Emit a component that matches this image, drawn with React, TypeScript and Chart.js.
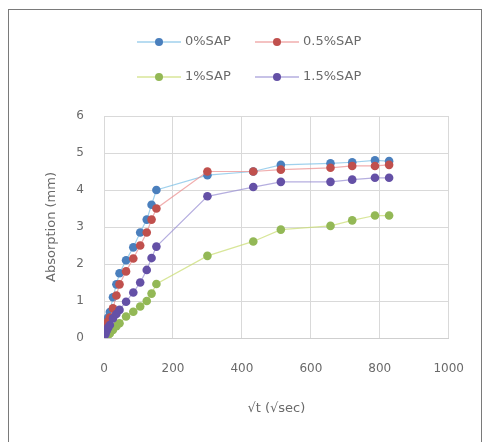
import React, { useEffect, useRef } from "react";
import { Chart, registerables } from "chart.js";

Chart.register(...registerables);

// √t values (√sec) shared by all series
const sqrtTime = [0, 4, 8, 12, 17, 26, 36, 45, 64, 85, 105, 124, 138, 152, 300, 433, 513, 657, 720, 786, 827];

const sap0 = [0, 0.25, 0.4, 0.55, 0.7, 1.1, 1.45, 1.75, 2.1, 2.45, 2.85, 3.2, 3.6, 4.0, 4.4, 4.5, 4.68, 4.72, 4.75, 4.8, 4.78];
const sap05 = [0, 0.2, 0.35, 0.45, 0.55, 0.8, 1.15, 1.45, 1.8, 2.15, 2.5, 2.85, 3.2, 3.5, 4.5, 4.5, 4.55, 4.6, 4.65, 4.65, 4.68];
const sap1 = [0, 0.02, 0.05, 0.08, 0.12, 0.22, 0.32, 0.4, 0.58, 0.71, 0.85, 1.0, 1.2, 1.46, 2.22, 2.61, 2.93, 3.03, 3.18, 3.31, 3.31];
const sap15 = [0, 0.1, 0.2, 0.28, 0.35, 0.53, 0.65, 0.76, 0.98, 1.23, 1.5, 1.84, 2.16, 2.47, 3.83, 4.08, 4.22, 4.22, 4.28, 4.33, 4.33];

const seriesLabels = ["0%SAP", "0.5%SAP", "1%SAP", "1.5%SAP"];
const xTicks = [0, 200, 400, 600, 800, 1000];
const yTicks = [0, 1, 2, 3, 4, 5, 6];

const markerColors = ["#4a7fbd", "#c0504d", "#93b856", "#6450a6"];
const lineColors = ["rgba(120,190,230,0.7)", "rgba(235,140,140,0.7)", "rgba(200,220,110,0.7)", "rgba(150,140,210,0.7)"];

const TEXT = "#6a6a6a";
const FONT = '"DejaVu Sans", sans-serif';

const legendPlugin = {
  id: "customLegend",
  afterDraw(chart: any) {
    const ctx = chart.ctx;
    const cols = [137, 255];
    const rows = [42, 77];
    chart.data.datasets.forEach((ds: any, i: number) => {
      const x0 = cols[i % 2];
      const y = rows[Math.floor(i / 2)];
      ctx.save();
      ctx.strokeStyle = ds.borderColor;
      ctx.lineWidth = 1.5;
      ctx.beginPath();
      ctx.moveTo(x0, y);
      ctx.lineTo(x0 + 44, y);
      ctx.stroke();
      ctx.fillStyle = ds.pointBackgroundColor;
      ctx.beginPath();
      ctx.arc(x0 + 22, y, 4, 0, Math.PI * 2);
      ctx.fill();
      ctx.fillStyle = TEXT;
      ctx.font = `13px ${FONT}`;
      ctx.textBaseline = "middle";
      ctx.textAlign = "left";
      ctx.fillText(ds.label, x0 + 48, y);
      ctx.restore();
    });
  },
};

export default function App() {
  const canvasRef = useRef<HTMLCanvasElement | null>(null);

  useEffect(() => {
    if (!canvasRef.current) return;
    const allY = [sap0, sap05, sap1, sap15];
    const chart = new Chart(canvasRef.current, {
      type: "scatter",
      data: {
        datasets: allY.map((ys, i) => ({
          label: seriesLabels[i],
          data: ys.map((y, j) => ({ x: sqrtTime[j], y })),
          showLine: true,
          borderColor: lineColors[i],
          borderWidth: 1.2,
          backgroundColor: markerColors[i],
          pointBackgroundColor: markerColors[i],
          pointBorderColor: markerColors[i],
          pointRadius: 4.3,
          pointBorderWidth: 0,
          order: 3 - i,
        })),
      },
      options: {
        responsive: false,
        animation: false,
        layout: { padding: { left: 44, top: 116, right: 31, bottom: 20 } },
        plugins: { legend: { display: false }, tooltip: { enabled: false } },
        scales: {
          x: {
            type: "linear",
            min: 0,
            max: 1000,
            afterBuildTicks: (s: any) => {
              s.ticks = xTicks.map((v) => ({ value: v }));
            },
            afterFit: (s: any) => {
              s.height = 84;
            },
            grid: { color: "#d9d9d9", drawTicks: false },
            border: { color: "#cfcfcf" },
            ticks: {
              padding: 24,
              color: TEXT,
              font: { family: FONT, size: 12 },
              callback: (v: any) => String(v),
            },
            title: {
              display: true,
              text: "√t (√sec)",
              color: TEXT,
              font: { family: FONT, size: 13 },
              padding: { top: 0, bottom: 6 },
            },
          },
          y: {
            type: "linear",
            min: 0,
            max: 6,
            afterBuildTicks: (s: any) => {
              s.ticks = yTicks.map((v) => ({ value: v }));
            },
            afterFit: (s: any) => {
              s.width = 60;
            },
            grid: { color: "#d9d9d9", drawTicks: false },
            border: { color: "#d9d9d9" },
            ticks: {
              padding: 20,
              color: TEXT,
              font: { family: FONT, size: 12 },
              callback: (v: any) => String(v),
            },
            title: {
              display: true,
              text: "Absorption (mm)",
              color: TEXT,
              font: { family: FONT, size: 13 },
              padding: { top: 0, bottom: 0 },
            },
          },
        },
      },
      plugins: [legendPlugin],
    });
    return () => chart.destroy();
  }, []);

  return (
    <div style={{ position: "fixed", left: 0, top: 0, width: 488, height: 442, overflow: "hidden", background: "#fff" }}>
      <div
        style={{
          position: "absolute",
          left: 8,
          top: 9,
          width: 474,
          height: 460,
          border: "1px solid #7a7a7a",
          boxSizing: "border-box",
        }}
      />
      <canvas ref={canvasRef} width={488} height={442} style={{ position: "absolute", left: 0, top: 0 }} />
    </div>
  );
}
